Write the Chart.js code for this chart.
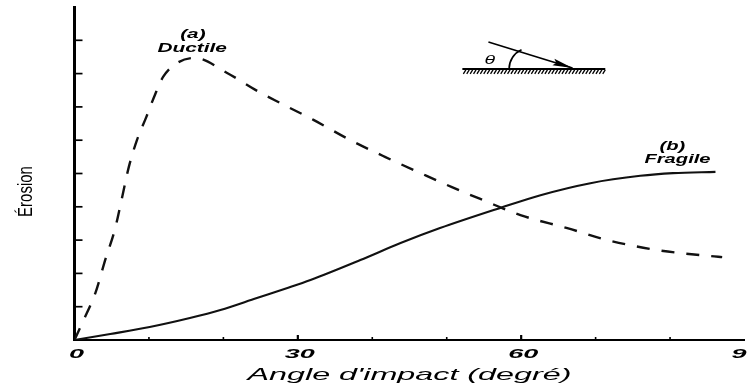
<!DOCTYPE html>
<html>
<head>
<meta charset="utf-8">
<script src="https://cdn.jsdelivr.net/npm/chart.js@4/dist/chart.umd.min.js"></script>
<style>
  html, body { margin: 0; padding: 0; background: #fff; }
  #wrap { width: 747px; height: 387px; }
</style>
</head>
<body>
<div id="wrap"><canvas id="chart"></canvas></div>
<script>
// values (angle in degrees, erosion in arbitrary units)
const ductileAngle   = [0, 1.1, 2.8, 4.2, 5.4, 6.4, 7.3, 8.4, 9.6, 10.8, 11.9, 13.8, 16.2, 20.5, 24.3, 27.6, 32.1, 37.0, 41.7, 46.4, 50.7, 54.9, 59.9, 66.2, 71.6, 78.3, 85.4, 87.0];
const ductileErosion = [0, 0.54, 1.41, 2.46, 3.30, 4.29, 5.20, 6.01, 6.67, 7.36, 7.90, 8.32, 8.47, 8.02, 7.51, 7.12, 6.61, 6.01, 5.50, 5.02, 4.59, 4.20, 3.75, 3.36, 3.00, 2.70, 2.52, 2.49];
const fragileAngle   = [0, 4.8, 10.1, 15.5, 19.6, 24.5, 28.6, 31.7, 38.4, 43.8, 49.1, 57.1, 62.6, 69.3, 76.0, 80.4, 86.1];
const fragileErosion = [0, 0.18, 0.39, 0.66, 0.90, 1.26, 1.56, 1.80, 2.40, 2.91, 3.36, 3.96, 4.35, 4.71, 4.93, 5.01, 5.05];
const angleTicks = [0, 30, 60, 90];
const xTitle = "Angle d'impact (degré)";
const yTitle = 'Érosion';
const ductileLabel = ['(a)', 'Ductile'];
const fragileLabel = ['(b)', 'Fragile'];

function toPoints(xs, ys) {
  return xs.map((x, i) => ({ x: x, y: ys[i] }));
}

// the scan is stretched sideways, so horizontal text is widened
function wideText(ctx, text, x, y, font, sx) {
  ctx.save();
  ctx.translate(x, y);
  ctx.scale(sx, 1);
  ctx.font = font;
  ctx.textAlign = 'center';
  ctx.textBaseline = 'alphabetic';
  ctx.fillStyle = '#000';
  ctx.fillText(text, 0, 0);
  ctx.restore();
}

const decor = {
  id: 'decor',
  afterDraw(chart) {
    const ctx = chart.ctx;
    const xs = chart.scales.x, ys = chart.scales.y;
    const area = chart.chartArea;
    const px = v => xs.getPixelForValue(v);
    const py = v => ys.getPixelForValue(v);
    ctx.save();
    ctx.strokeStyle = '#000';
    ctx.fillStyle = '#000';

    // inside tick marks
    ctx.lineWidth = 1.7;
    ys.ticks.forEach(t => {
      if (t.value <= 0 || t.value >= 10) return;
      ctx.beginPath();
      ctx.moveTo(area.left, py(t.value));
      ctx.lineTo(area.left + 8, py(t.value));
      ctx.stroke();
    });
    xs.ticks.forEach(t => {
      if (t.value <= 0 || t.value >= 90) return;
      const major = angleTicks.includes(t.value);
      ctx.lineWidth = major ? 2.2 : 1.6;
      ctx.beginPath();
      ctx.moveTo(px(t.value), area.bottom);
      ctx.lineTo(px(t.value), area.bottom - (major ? 5 : 3));
      ctx.stroke();
    });

    // tick labels and titles
    angleTicks.forEach(a => {
      wideText(ctx, String(a), px(a) + 2, area.bottom + 18, 'bold italic 12px "Liberation Sans", Arial, sans-serif', 2.25);
    });
    wideText(ctx, xTitle, (area.left + area.right) / 2, area.bottom + 40, 'italic 17px "Liberation Sans", Arial, sans-serif', 1.9);

    ctx.save();
    ctx.translate(27, (area.top + area.bottom) / 2 + 18);
    ctx.scale(1.3, 1);
    ctx.rotate(-Math.PI / 2);
    ctx.font = '15px "Liberation Sans", Arial, sans-serif';
    ctx.textAlign = 'center';
    ctx.textBaseline = 'middle';
    ctx.fillText(yTitle, 0, 0);
    ctx.restore();

    // curve labels
    const lf = 'bold italic 13px "Liberation Sans", Arial, sans-serif';
    wideText(ctx, ductileLabel[0], px(15.9), py(9.07), lf, 1.6);
    wideText(ctx, ductileLabel[1], px(15.8), py(8.65), lf, 1.6);
    wideText(ctx, fragileLabel[0], px(80.3), py(5.7), lf, 1.55);
    wideText(ctx, fragileLabel[1], px(81.0), py(5.31), lf, 1.55);

    // inset: impact angle sketch
    const sy = py(8.14);
    const sx0 = px(52.1), sx1 = px(71.3);
    ctx.lineWidth = 2;
    ctx.beginPath();
    ctx.moveTo(sx0, sy);
    ctx.lineTo(sx1, sy);
    ctx.stroke();
    ctx.lineWidth = 1.3;
    for (let h = sx0 + 1; h < sx1 - 1; h += 3.4) {
      ctx.beginPath();
      ctx.moveTo(h + 2.5, sy + 1);
      ctx.lineTo(h, sy + 5);
      ctx.stroke();
    }
    const ax0 = px(55.6), ay0 = py(8.95);
    const ax1 = px(66.9), ay1 = py(8.17);
    ctx.lineWidth = 1.7;
    ctx.beginPath();
    ctx.moveTo(ax0, ay0);
    ctx.lineTo(ax1, ay1);
    ctx.stroke();
    const ang = Math.atan2(ay1 - ay0, ax1 - ax0);
    ctx.save();
    ctx.translate(ax1, ay1);
    ctx.rotate(ang);
    ctx.beginPath();
    ctx.moveTo(0, 0);
    ctx.lineTo(-20, -3.4);
    ctx.lineTo(-17, 0);
    ctx.lineTo(-20, 3.4);
    ctx.closePath();
    ctx.fill();
    ctx.restore();
    ctx.lineWidth = 1.6;
    ctx.beginPath();
    ctx.arc(px(61.2), sy, 21, Math.PI, Math.PI + 1.15);
    ctx.stroke();
    wideText(ctx, 'θ', px(55.8), py(8.3), 'italic 13px "Liberation Sans", Arial, sans-serif', 1.5);

    ctx.restore();
  }
};

const ctx = document.getElementById('chart');

new Chart(ctx, {
  type: 'line',
  data: {
    datasets: [{
      data: toPoints(ductileAngle, ductileErosion),
      borderColor: '#111',
      borderWidth: 2.4,
      borderDash: [13, 12],
      pointRadius: 0,
      cubicInterpolationMode: 'monotone'
    }, {
      data: toPoints(fragileAngle, fragileErosion),
      borderColor: '#111',
      borderWidth: 2.1,
      pointRadius: 0,
      cubicInterpolationMode: 'monotone'
    }]
  },
  options: {
    responsive: true,
    maintainAspectRatio: false,
    animation: false,
    layout: { padding: { top: 7, right: 2.5, left: 0, bottom: 0 } },
    plugins: { legend: { display: false }, tooltip: { enabled: false } },
    scales: {
      x: {
        type: 'linear', min: 0, max: 90,
        ticks: { stepSize: 10, display: false },
        grid: { display: false },
        border: { display: true, color: '#000', width: 2 },
        afterFit: s => { s.height = 47; }
      },
      y: {
        type: 'linear', min: 0, max: 10,
        ticks: { stepSize: 1, display: false },
        grid: { display: false },
        border: { display: true, color: '#000', width: 3 },
        afterFit: s => { s.width = 74.5; }
      }
    }
  },
  plugins: [decor]
});
</script>
</body>
</html>
